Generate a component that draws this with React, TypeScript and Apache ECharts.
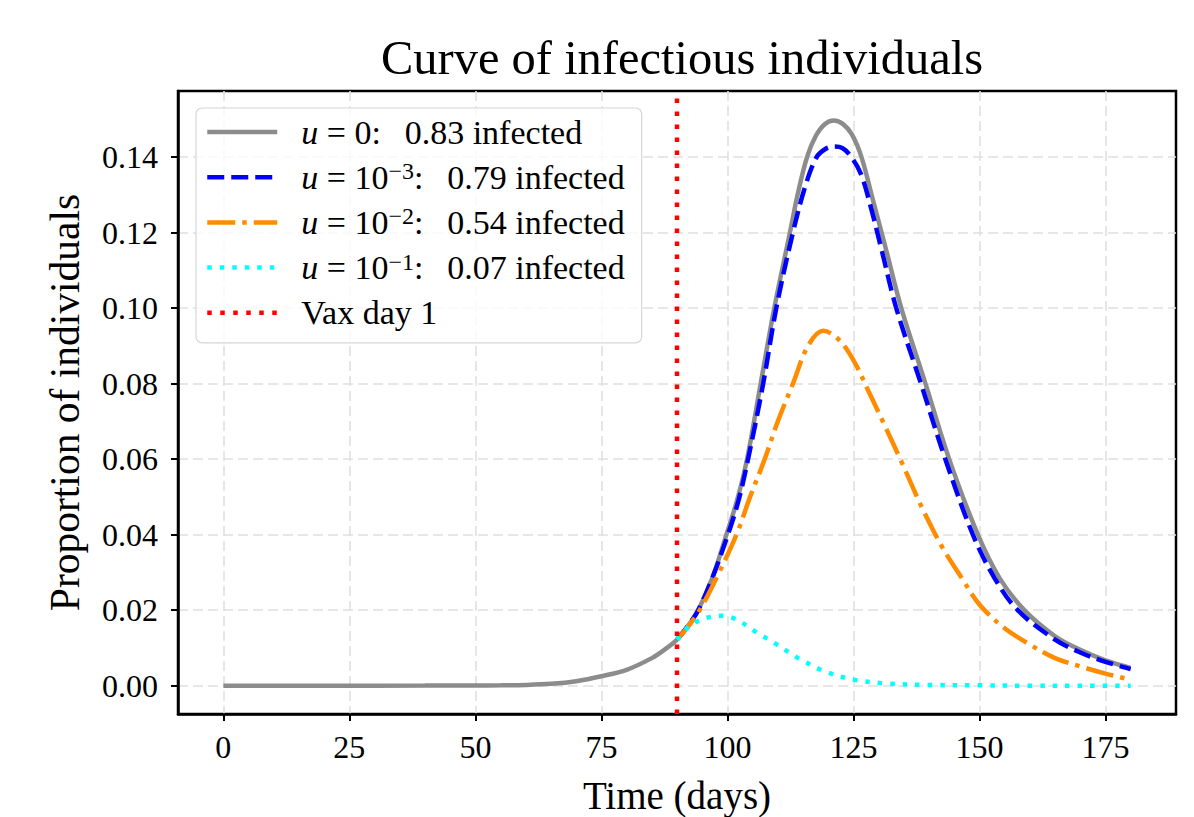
import React, { useEffect, useRef } from "react";
import * as echarts from "echarts";

const FONT = "'Liberation Serif', 'Times New Roman', serif";

const xTicks = [0, 25, 50, 75, 100, 125, 150, 175];
const yTicks = [0, 0.02, 0.04, 0.06, 0.08, 0.1, 0.12, 0.14];
const xMin = -9;
const xMax = 189;
const yMin = -0.0075;
const yMax = 0.1575;
const vaxDay = 90;

// u = 0
const t0 = [0, 20, 40, 50, 55, 60, 65, 70, 75, 80, 85, 87.5, 90, 92, 94.2, 97, 99.8, 101.9, 103.9, 106.6, 109.3, 112.4, 114, 115.8, 117.5, 119.3, 121.1, 122.9, 124.7, 126.6, 128.8, 131.5, 134.5, 139.3, 144, 149.7, 154, 158.9, 165, 170, 175, 180];
const v0 = [0, 0, 0.00002, 0.00006, 0.0001, 0.0002, 0.0005, 0.0012, 0.0025, 0.0042, 0.0073, 0.0095, 0.0122, 0.0155, 0.02, 0.0285, 0.04, 0.049, 0.06, 0.08, 0.1, 0.12, 0.1305, 0.14, 0.1455, 0.1487, 0.1497, 0.1488, 0.146, 0.14, 0.129, 0.1154, 0.1, 0.08, 0.06, 0.04, 0.0285, 0.02, 0.0131, 0.0095, 0.0067, 0.0047];

// u = 1e-3
const t3 = [90, 92, 94.2, 97, 100.1, 102.2, 104.1, 107.1, 109.7, 113, 115.5, 117.7, 119.5, 121, 122.8, 124.6, 126.5, 128.5, 130.6, 133.5, 138.4, 143.1, 148.7, 153, 157.6, 165, 170, 175, 180];
const v3 = [0.0122, 0.0155, 0.02, 0.0285, 0.04, 0.049, 0.06, 0.08, 0.1, 0.12, 0.1325, 0.14, 0.1422, 0.1428, 0.1424, 0.14, 0.1355, 0.1265, 0.1154, 0.1, 0.08, 0.0605, 0.04, 0.0285, 0.02, 0.0122, 0.0088, 0.0063, 0.0044];

// u = 1e-2
const t2 = [90, 92, 94.5, 98, 101.8, 104.5, 107.4, 110, 113, 116, 119, 122, 125, 128, 131, 134.5, 138.8, 142.7, 146.5, 150, 155, 160, 165, 170, 175, 180];
const v2 = [0.0122, 0.0153, 0.02, 0.029, 0.04, 0.05, 0.06, 0.07, 0.08, 0.09, 0.094, 0.0918, 0.0862, 0.078, 0.0695, 0.0594, 0.0466, 0.0365, 0.0285, 0.0215, 0.0152, 0.0109, 0.0073, 0.0051, 0.0032, 0.0016];

// u = 1e-1
const t1 = [90, 92, 94.6, 97, 99, 101.7, 105.7, 109.7, 112.3, 114.3, 119.3, 125, 131.5, 140, 150, 160, 170, 180];
const v1 = [0.0122, 0.0152, 0.0174, 0.0183, 0.0185, 0.0176, 0.0142, 0.011, 0.0087, 0.0071, 0.0038, 0.0016, 0.0006, 0.0002, 0.0001, 0, 0, 0];

const names = [
  "u = 0: 0.83 infected",
  "u = 10−3: 0.79 infected",
  "u = 10−2: 0.54 infected",
  "u = 10−1: 0.07 infected",
  "Vax day 1",
];
const richNames: Record<string, string> = {
  [names[0]]: "{i|u} = 0:\u2009  0.83 infected",
  [names[1]]: "{i|u} = 10{s|−3}:\u2009  0.79 infected",
  [names[2]]: "{i|u} = 10{s|−2}:\u2009  0.54 infected",
  [names[3]]: "{i|u} = 10{s|−1}:\u2009  0.07 infected",
  [names[4]]: "Vax day 1",
};

const zip = (t: number[], v: number[]) => t.map((x, i) => [x, v[i]]);

export default function App() {
  const ref = useRef<HTMLDivElement>(null);
  useEffect(() => {
    if (!ref.current) return;
    const chart = echarts.init(ref.current, undefined, { renderer: "svg" });
    const lw = 4.5;
    const mk = (name: string, data: number[][], color: string, type: any, z: number) => ({
      name,
      type: "line",
      data,
      symbol: "none",
      smooth: 0.35,
      z,
      lineStyle: { color, width: lw, type },
      itemStyle: { color },
      emphasis: { disabled: true },
    });
    chart.setOption({
      animation: false,
      backgroundColor: "#fff",
      title: {
        text: "Curve of infectious individuals",
        left: 677,
        textAlign: "center",
        top: 28,
        textStyle: { fontFamily: FONT, fontSize: 48.5, fontWeight: "normal", color: "#000" },
      },
      grid: {
        left: 178,
        top: 91,
        width: 998,
        height: 623,
        show: true,
        borderColor: "#000",
        borderWidth: 2.5,
        backgroundColor: "transparent",
        outerBoundsMode: "none",
        containLabel: false,
      },
      legend: {
        orient: "vertical",
        left: 196,
        top: 108,
        padding: [6, 17, 12, 9],
        itemWidth: 70,
        itemHeight: 14,
        itemGap: 9.2,
        selectedMode: false,
        backgroundColor: "rgba(255,255,255,0.8)",
        borderColor: "#d6d6d6",
        borderWidth: 1.2,
        borderRadius: 6,
        lineStyle: { width: "inherit" },
        itemStyle: { opacity: 0, borderWidth: 0 },
        data: names,
        formatter: (n: string) => richNames[n] || n,
        textStyle: {
          fontFamily: FONT,
          fontSize: 34,
          lineHeight: 36,
          color: "#000",
          padding: [0, 0, 0, 19],
          rich: {
            i: { fontFamily: FONT, fontSize: 34, fontStyle: "italic", color: "#000" },
            s: { fontFamily: FONT, fontSize: 24, lineHeight: 14, verticalAlign: "top", color: "#000" },
          },
        },
      },
      xAxis: {
        type: "value",
        min: xMin,
        max: xMax,
        name: "Time (days)",
        nameLocation: "middle",
        nameGap: 62,
        nameTextStyle: { fontFamily: FONT, fontSize: 39, color: "#000" },
        axisLine: { show: true, onZero: false, lineStyle: { color: "#000", width: 2.5 } },
        axisTick: { show: true, length: 7, lineStyle: { color: "#000", width: 2 }, customValues: xTicks },
        axisLabel: { customValues: xTicks, fontFamily: FONT, fontSize: 32, color: "#000", margin: 17 },
        splitLine: { show: true, lineStyle: { color: "#e0e0e0", width: 1.6, type: [10, 5] } },
      },
      yAxis: {
        type: "value",
        min: yMin,
        max: yMax,
        name: "Proportion of individuals",
        nameLocation: "middle",
        nameGap: 92,
        nameTextStyle: { fontFamily: FONT, fontSize: 41.5, color: "#000" },
        axisLine: { show: true, onZero: false, lineStyle: { color: "#000", width: 2.5 } },
        axisTick: { show: true, length: 7, lineStyle: { color: "#000", width: 2 }, customValues: yTicks },
        axisLabel: {
          customValues: yTicks,
          fontFamily: FONT,
          fontSize: 32,
          color: "#000",
          margin: 20,
          formatter: (v: number) => v.toFixed(2),
        },
        splitLine: { show: true, lineStyle: { color: "#e0e0e0", width: 1.6, type: [10, 5] } },
      },
      series: [
        mk(names[0], zip(t0, v0), "#8c8c8c", "solid", 2),
        mk(names[1], zip(t3, v3), "#0000ff", [17, 7], 3),
        mk(names[2], zip(t2, v2), "#ff8c00", [28, 7, 4.5, 7], 4),
        mk(names[3], zip(t1, v1), "#00ffff", [4.5, 8], 5),
        {
          ...mk(names[4], [[vaxDay, yMin], [vaxDay, yMax]], "#ff0000", [4.5, 8.5], 6),
          smooth: false,
        },
      ],
    });
    return () => chart.dispose();
  }, []);
  return <div ref={ref} style={{ position: "absolute", left: 0, top: 0, width: 1194, height: 817 }} />;
}
